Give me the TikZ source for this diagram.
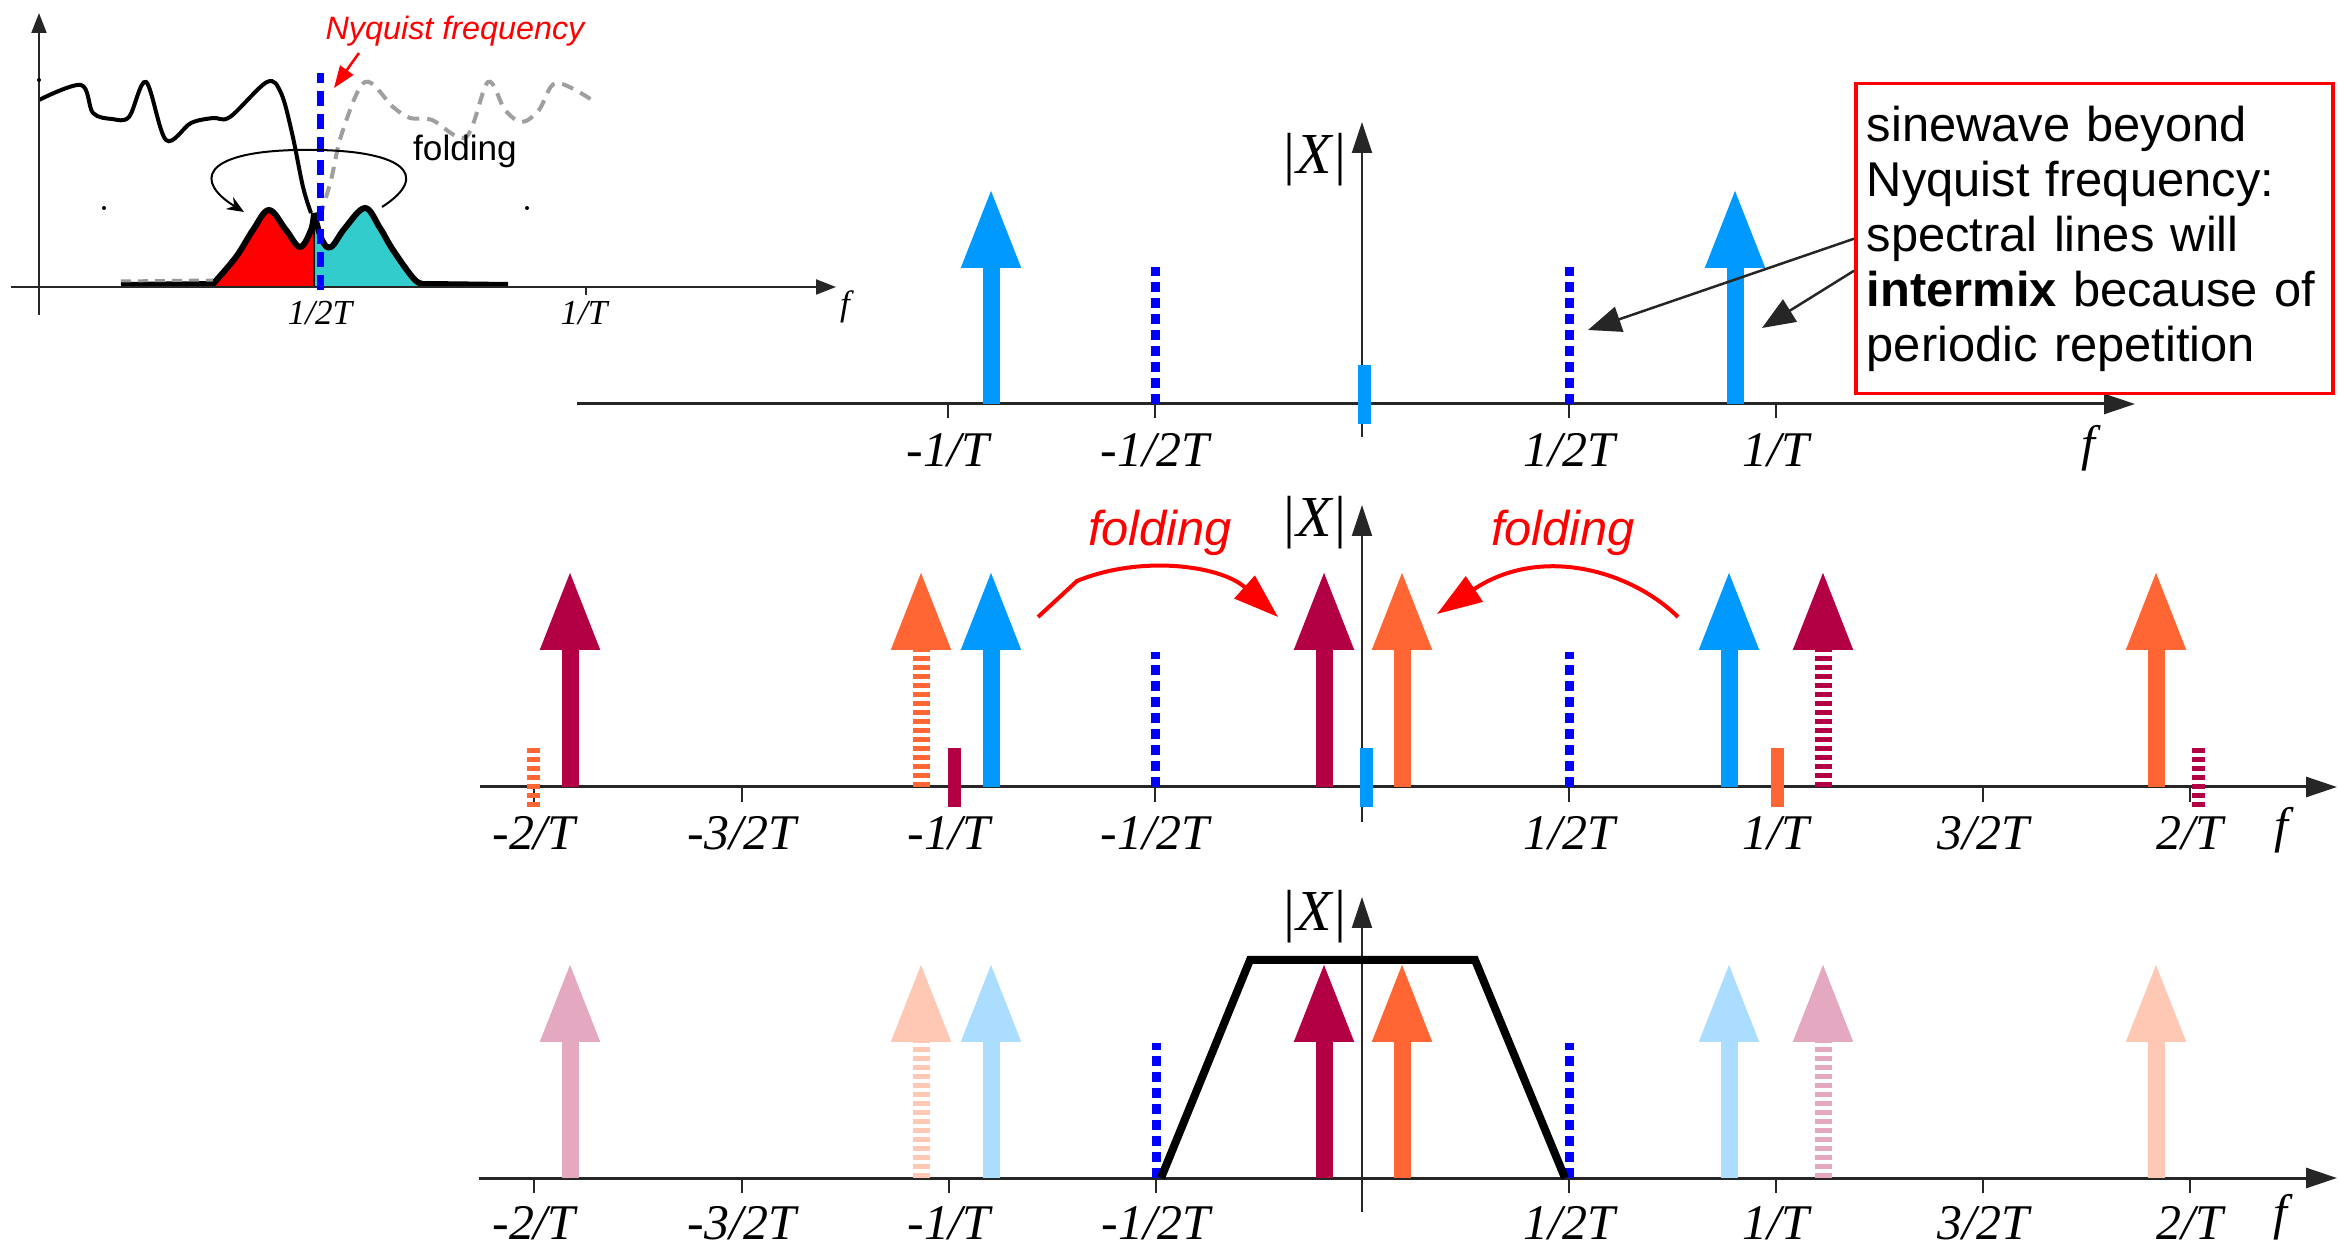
\documentclass[tikz,border=0pt]{standalone}
\usepackage{fontspec}
\setmainfont{Liberation Serif}
\setsansfont{Liberation Sans}
\usetikzlibrary{arrows.meta}
\definecolor{lineblue}{RGB}{0,153,255}
\definecolor{crimson}{RGB}{179,0,68}
\definecolor{lineorange}{RGB}{255,102,51}
\definecolor{paleblue}{RGB}{170,221,255}
\definecolor{palecrimson}{RGB}{228,168,192}
\definecolor{paleorange}{RGB}{255,200,180}
\definecolor{nyqblue}{RGB}{0,0,255}
\definecolor{foldcyan}{RGB}{51,204,204}

\begin{document}
\begin{tikzpicture}[x=0.1mm, y=-0.1mm,
    faxis/.style={black!85, line width=0.3mm, -{Triangle[length=3.1mm,width=2mm]}},
    fyaxis/.style={faxis, line width=0.2mm},
    tickmark/.style={black!85, line width=0.2mm},
    spec/.style={line width=1.7mm, -{Triangle[length=8mm,width=5.5mm]}},
    striped/.style={dash pattern=on 0.5mm off 0.4mm},
    dcbar/.style={line width=1.3mm},
    nyq/.style={nyqblue, line width=0.9mm, dash pattern=on 1mm off 0.6mm},
    ticklab/.style={font=\fontsize{14.2}{16}\selectfont\itshape},
    maglab/.style={font=\fontsize{16.5}{18}\selectfont\itshape},
    foldarc/.style={red, line width=0.4mm, -{Triangle[length=4.5mm,width=3mm]}},
    foldlab/.style={red, font=\fontsize{13.9}{16}\selectfont\sffamily\itshape},
    smalllab/.style={font=\fontsize{10}{12}\selectfont\itshape},
    notebox/.style={draw=red, line width=0.35mm, align=left, text width=4.55cm,
        minimum width=4.77cm, minimum height=3.1cm, inner xsep=1.1mm, inner ysep=1.6mm,
        font=\fontsize{13.9}{15.6}\selectfont\sffamily},
    callout/.style={black!85, line width=0.25mm, -{Triangle[length=3.3mm,width=2.6mm]}}]

    \useasboundingbox (0,0) rectangle (2339,1247);

    % Inset: spectrum folded at the Nyquist frequency
    \fill[red] (213,287) -- plot[smooth, tension=0.6] coordinates {(213,284) (236,257) (253,230) (269,210) (286,230) (300,247) (311,230) (314,213)} -- (314,287) -- cycle;
    \fill[foldcyan] (314,287) -- plot[smooth, tension=0.6] coordinates {(314,213) (322,240) (331,247) (345,228) (365,208) (380,228) (393,250) (415,280) (427,284)} -- (427,287) -- cycle;
    \draw[line width=0.6mm, line join=round] (121,285) -- plot[smooth, tension=0.6] coordinates {(213,284) (236,257) (253,230) (269,210) (286,230) (300,247) (311,230) (314,213)};
    \draw[line width=0.6mm, line join=round] plot[smooth, tension=0.6] coordinates {(314,213) (322,240) (331,247) (345,228) (365,208) (380,228) (393,250) (415,280) (427,284)} -- (508,285);
    \draw[line width=0.25mm] (314,213) -- (314,287);
    \draw[gray!80, line width=0.3mm, dash pattern=on 1mm off 0.7mm] (121,281) -- (213,280);
    \draw[line width=0.4mm] plot[smooth, tension=0.55] coordinates {(39,100) (81,85) (93,113) (112,119) (129,117) (146,82) (166,140) (191,123) (213,118) (230,117) (267,82) (281,93) (292,133) (303,187) (311,213)};
    \draw[gray!75, line width=0.4mm, dash pattern=on 1.2mm off 0.8mm] plot[smooth, tension=0.55] coordinates {(320,217) (331,180) (342,133) (365,82) (393,107) (410,118) (432,120) (466,137) (488,82) (505,110) (522,122) (539,110) (556,83) (592,100)};
    \draw[black!85, line width=0.2mm, -{Triangle[length=2mm,width=1.5mm]}] (11,287) -- (836,287);
    \draw[black!85, line width=0.2mm, -{Triangle[length=2mm,width=1.5mm]}] (39,315) -- (39,13);
    \draw[tickmark] (586,287) -- (586,295);
    \draw[nyqblue, line width=0.7mm, dash pattern=on 1.5mm off 0.8mm] (320,290) -- (320,73);
    \fill (39,80) circle (0.2mm) (104,208) circle (0.2mm) (527,208) circle (0.2mm);
    \node[smalllab] (inhalf) at (320,313) {1/2T};
    \node[smalllab] (inone) at (584,313) {1/T};
    \node[smalllab] (inf) at (845,307) {f};
    \node[red, font=\fontsize{9.2}{11}\selectfont\sffamily\itshape] (nyqlab) at (455,31) {Nyquist frequency};
    \coordinate (nyqtip) at (334,88);
    \draw[red, line width=0.25mm, -{Triangle[length=2.2mm,width=1.6mm]}] (359,53) -- (nyqtip);
    \node[font=\fontsize{10}{12}\selectfont\sffamily] (infold) at (465,151) {folding};
    \draw[line width=0.2mm, -{Stealth[length=1.7mm,width=1.4mm]}] (382,207) .. controls (432,175) and (405,148) .. (297,150) .. controls (200,152) and (195,182) .. (244,212);

    % Top spectrum
    \draw[faxis] (577,404) -- (2135,404);
    \draw[fyaxis] (1362,437) -- (1362,122);
    \draw[tickmark] (948,404) -- (948,418);
    \draw[tickmark] (1155,404) -- (1155,418);
    \draw[tickmark] (1569,404) -- (1569,418);
    \draw[tickmark] (1776,404) -- (1776,418);
    \draw[nyq] (1155,404) -- (1155,267);
    \draw[nyq] (1569,404) -- (1569,267);
    \draw[spec, lineblue] (991,404) -- (991,188);
    \draw[spec, lineblue] (1735,404) -- (1735,188);
    \draw[dcbar, lineblue] (1364,365) -- (1364,424);
    \node[maglab] (tmag) at (1314,160) {|X|};
    \node[ticklab] (tmone) at (948,450) {-1/T};
    \node[ticklab] (tmhalf) at (1155,450) {-1/2T};
    \node[ticklab] (thalf) at (1569,450) {1/2T};
    \node[ticklab] (tone) at (1776,450) {1/T};
    \node[ticklab] (tf) at (2088,448) {f};

    \node[notebox, anchor=north west] (note) at (1854,82) {sinewave beyond\\Nyquist frequency:\\spectral lines will\\\textbf{intermix} because of\\periodic repetition};
    \coordinate (mixnyq) at (1588,330);
    \coordinate (mixline) at (1762,328);
    \draw[callout] (note.west) -- (mixnyq);
    \draw[callout] ([yshift=-3.2mm]note.west) -- (mixline);

    % Middle spectrum
    \draw[faxis] (480,787) -- (2337,787);
    \draw[fyaxis] (1362,822) -- (1362,505);
    \draw[tickmark] (534,787) -- (534,802);
    \draw[tickmark] (742,787) -- (742,802);
    \draw[tickmark] (949,787) -- (949,802);
    \draw[tickmark] (1155,787) -- (1155,802);
    \draw[tickmark] (1569,787) -- (1569,802);
    \draw[tickmark] (1776,787) -- (1776,802);
    \draw[tickmark] (1983,787) -- (1983,802);
    \draw[tickmark] (2190,787) -- (2190,802);
    \draw[nyq] (1155,787) -- (1155,652);
    \draw[nyq] (1569,787) -- (1569,652);
    \draw[spec, crimson] (570,787) -- (570,570);
    \draw[spec, lineorange, striped] (921,787) -- (921,570);
    \draw[spec, lineblue] (991,787) -- (991,570);
    \draw[spec, crimson] (1324,787) -- (1324,570);
    \draw[spec, lineorange] (1402,787) -- (1402,570);
    \draw[spec, lineblue] (1729,787) -- (1729,570);
    \draw[spec, crimson, striped] (1823,787) -- (1823,570);
    \draw[spec, lineorange] (2156,787) -- (2156,570);
    \draw[dcbar, lineorange, striped] (533,748) -- (533,807);
    \draw[dcbar, crimson] (954,748) -- (954,807);
    \draw[dcbar, lineblue] (1366,748) -- (1366,807);
    \draw[dcbar, lineorange] (1777,748) -- (1777,807);
    \draw[dcbar, crimson, striped] (2198,748) -- (2198,807);
    \node[maglab] (mmag) at (1314,523) {|X|};
    \node[ticklab] (mmtwo) at (534,833) {-2/T};
    \node[ticklab] (mmthree) at (742,833) {-3/2T};
    \node[ticklab] (mmone) at (949,833) {-1/T};
    \node[ticklab] (mmhalf) at (1155,833) {-1/2T};
    \node[ticklab] (mhalf) at (1569,833) {1/2T};
    \node[ticklab] (mone) at (1776,833) {1/T};
    \node[ticklab] (mthree) at (1983,833) {3/2T};
    \node[ticklab] (mtwo) at (2190,833) {2/T};
    \node[ticklab] (mf) at (2281,830) {f};
    \node[foldlab] (lfold) at (1160,533) {folding};
    \node[foldlab] (rfold) at (1563,533) {folding};
    \draw[foldarc] (1038,617) -- (1077,581) .. controls (1140,555) and (1220,565) .. (1278,617);
    \draw[foldarc] (1678,617) .. controls (1630,570) and (1540,545) .. (1437,614);

    % Bottom spectrum
    \draw[faxis] (479,1178) -- (2337,1178);
    \draw[fyaxis] (1362,1212) -- (1362,897);
    \draw[tickmark] (534,1178) -- (534,1193);
    \draw[tickmark] (742,1178) -- (742,1193);
    \draw[tickmark] (949,1178) -- (949,1193);
    \draw[tickmark] (1156,1178) -- (1156,1193);
    \draw[tickmark] (1569,1178) -- (1569,1193);
    \draw[tickmark] (1776,1178) -- (1776,1193);
    \draw[tickmark] (1983,1178) -- (1983,1193);
    \draw[tickmark] (2190,1178) -- (2190,1193);
    \draw[nyq] (1156,1178) -- (1156,1043);
    \draw[nyq] (1569,1178) -- (1569,1043);
    \draw[spec, palecrimson] (570,1178) -- (570,962);
    \draw[spec, paleorange, striped] (921,1178) -- (921,962);
    \draw[spec, paleblue] (991,1178) -- (991,962);
    \draw[spec, crimson] (1324,1178) -- (1324,962);
    \draw[spec, lineorange] (1402,1178) -- (1402,962);
    \draw[spec, paleblue] (1729,1178) -- (1729,962);
    \draw[spec, palecrimson, striped] (1823,1178) -- (1823,962);
    \draw[spec, paleorange] (2156,1178) -- (2156,962);
    \draw[line width=0.8mm] (1161,1178) -- (1250,960) -- (1475,960) -- (1565,1178);
    \node[maglab] (bmag) at (1314,917) {|X|};
    \node[ticklab] (bmtwo) at (534,1223) {-2/T};
    \node[ticklab] (bmthree) at (742,1223) {-3/2T};
    \node[ticklab] (bmone) at (949,1223) {-1/T};
    \node[ticklab] (bmhalf) at (1156,1223) {-1/2T};
    \node[ticklab] (bhalf) at (1569,1223) {1/2T};
    \node[ticklab] (bone) at (1776,1223) {1/T};
    \node[ticklab] (bthree) at (1983,1223) {3/2T};
    \node[ticklab] (btwo) at (2190,1223) {2/T};
    \node[ticklab] (bf) at (2280,1217) {f};
\end{tikzpicture}
\end{document}
